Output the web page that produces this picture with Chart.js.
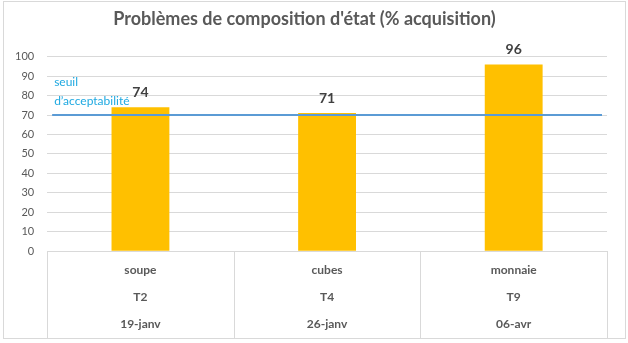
<!DOCTYPE html>
<html>
<head>
<meta charset="utf-8">
<script src="https://cdn.jsdelivr.net/npm/chart.js@4/dist/chart.umd.min.js"></script>
<style>
  html, body { margin: 0; padding: 0; background: #fff; }
  #wrap { width: 628px; height: 343px; }
</style>
</head>
<body>
<div id="wrap"><canvas id="chart"></canvas></div>
<script>
const activites = ['soupe', 'cubes', 'monnaie'];
const taches = ['T2', 'T4', 'T9'];
const dates = ['19-janv', '26-janv', '06-avr'];
const acquisition = [74, 71, 96];
const seuil = 70;
const yTicks = [0, 10, 20, 30, 40, 50, 60, 70, 80, 90, 100];

const labels = activites.map((a, i) => [a, taches[i], dates[i]]);

// cadre, seuil, étiquettes et séparateurs de l'axe X
const decorPlugin = {
  id: 'decor',
  afterDatasetsDraw(chart) {
    const { ctx, chartArea, scales } = chart;
    const y = scales.y;

    // ligne du seuil
    const ys = Math.round(y.getPixelForValue(seuil));
    ctx.save();
    ctx.strokeStyle = '#5B9BD5';
    ctx.lineWidth = 2;
    ctx.beginPath();
    ctx.moveTo(chartArea.left + 5, ys);
    ctx.lineTo(chartArea.right - 5, ys);
    ctx.stroke();

    ctx.fillStyle = '#1FA9E1';
    ctx.font = '12px Lato';
    ctx.textAlign = 'left';
    ctx.textBaseline = 'middle';
    ctx.fillText('seuil', chartArea.left + 7, ys - 33);
    ctx.fillText('d\u2019acceptabilité', chartArea.left + 7, ys - 14);

    // valeurs au-dessus des barres
    ctx.fillStyle = '#404040';
    ctx.font = 'bold 14px Lato';
    ctx.textAlign = 'center';
    chart.getDatasetMeta(0).data.forEach((bar, i) => {
      ctx.fillText(acquisition[i], bar.x, bar.y - 15);
    });

    // séparateurs des catégories
    const step = (chartArea.right - chartArea.left) / activites.length;
    ctx.strokeStyle = '#d9d9d9';
    ctx.lineWidth = 1;
    ctx.beginPath();
    for (let i = 0; i <= activites.length; i++) {
      const px = Math.round(chartArea.left + i * step) + 0.5;
      ctx.moveTo(px, chartArea.bottom);
      ctx.lineTo(px, 338);
    }
    ctx.stroke();

    // cadre
    ctx.strokeStyle = '#d9d9d9';
    ctx.strokeRect(3.5, 1.5, 622, 337);
    ctx.restore();
  }
};

new Chart(document.getElementById('chart'), {
  type: 'bar',
  data: {
    labels: labels,
    datasets: [{
      data: acquisition,
      backgroundColor: '#FFC000',
      barPercentage: 0.31,
      categoryPercentage: 1
    }]
  },
  options: {
    responsive: true,
    maintainAspectRatio: false,
    animation: false,
    layout: { padding: { left: 2, right: 21, top: 0, bottom: 0 } },
    plugins: {
      legend: { display: false },
      tooltip: { enabled: false },
      title: {
        display: true,
        text: 'Problèmes de composition d\'état (% acquisition)',
        color: '#595959',
        font: { family: 'Lato', size: 18, weight: 'bold' },
        padding: { top: 8, bottom: 27 }
      }
    },
    scales: {
      x: {
        grid: { display: false, drawTicks: false },
        border: { display: true, color: '#d9d9d9' },
        ticks: {
          color: '#595959',
          font: { family: 'Lato', size: 12, weight: 'bold', lineHeight: 2.27 },
          padding: 5
        }
      },
      y: {
        min: 0,
        max: 100,
        afterBuildTicks(scale) {
          scale.ticks = yTicks.map(v => ({ value: v }));
        },
        grid: { color: '#d9d9d9', drawTicks: false },
        border: { display: false },
        ticks: {
          color: '#595959',
          font: { family: 'Lato', size: 11 },
          padding: 13
        }
      }
    }
  },
  plugins: [decorPlugin]
});
</script>
</body>
</html>
